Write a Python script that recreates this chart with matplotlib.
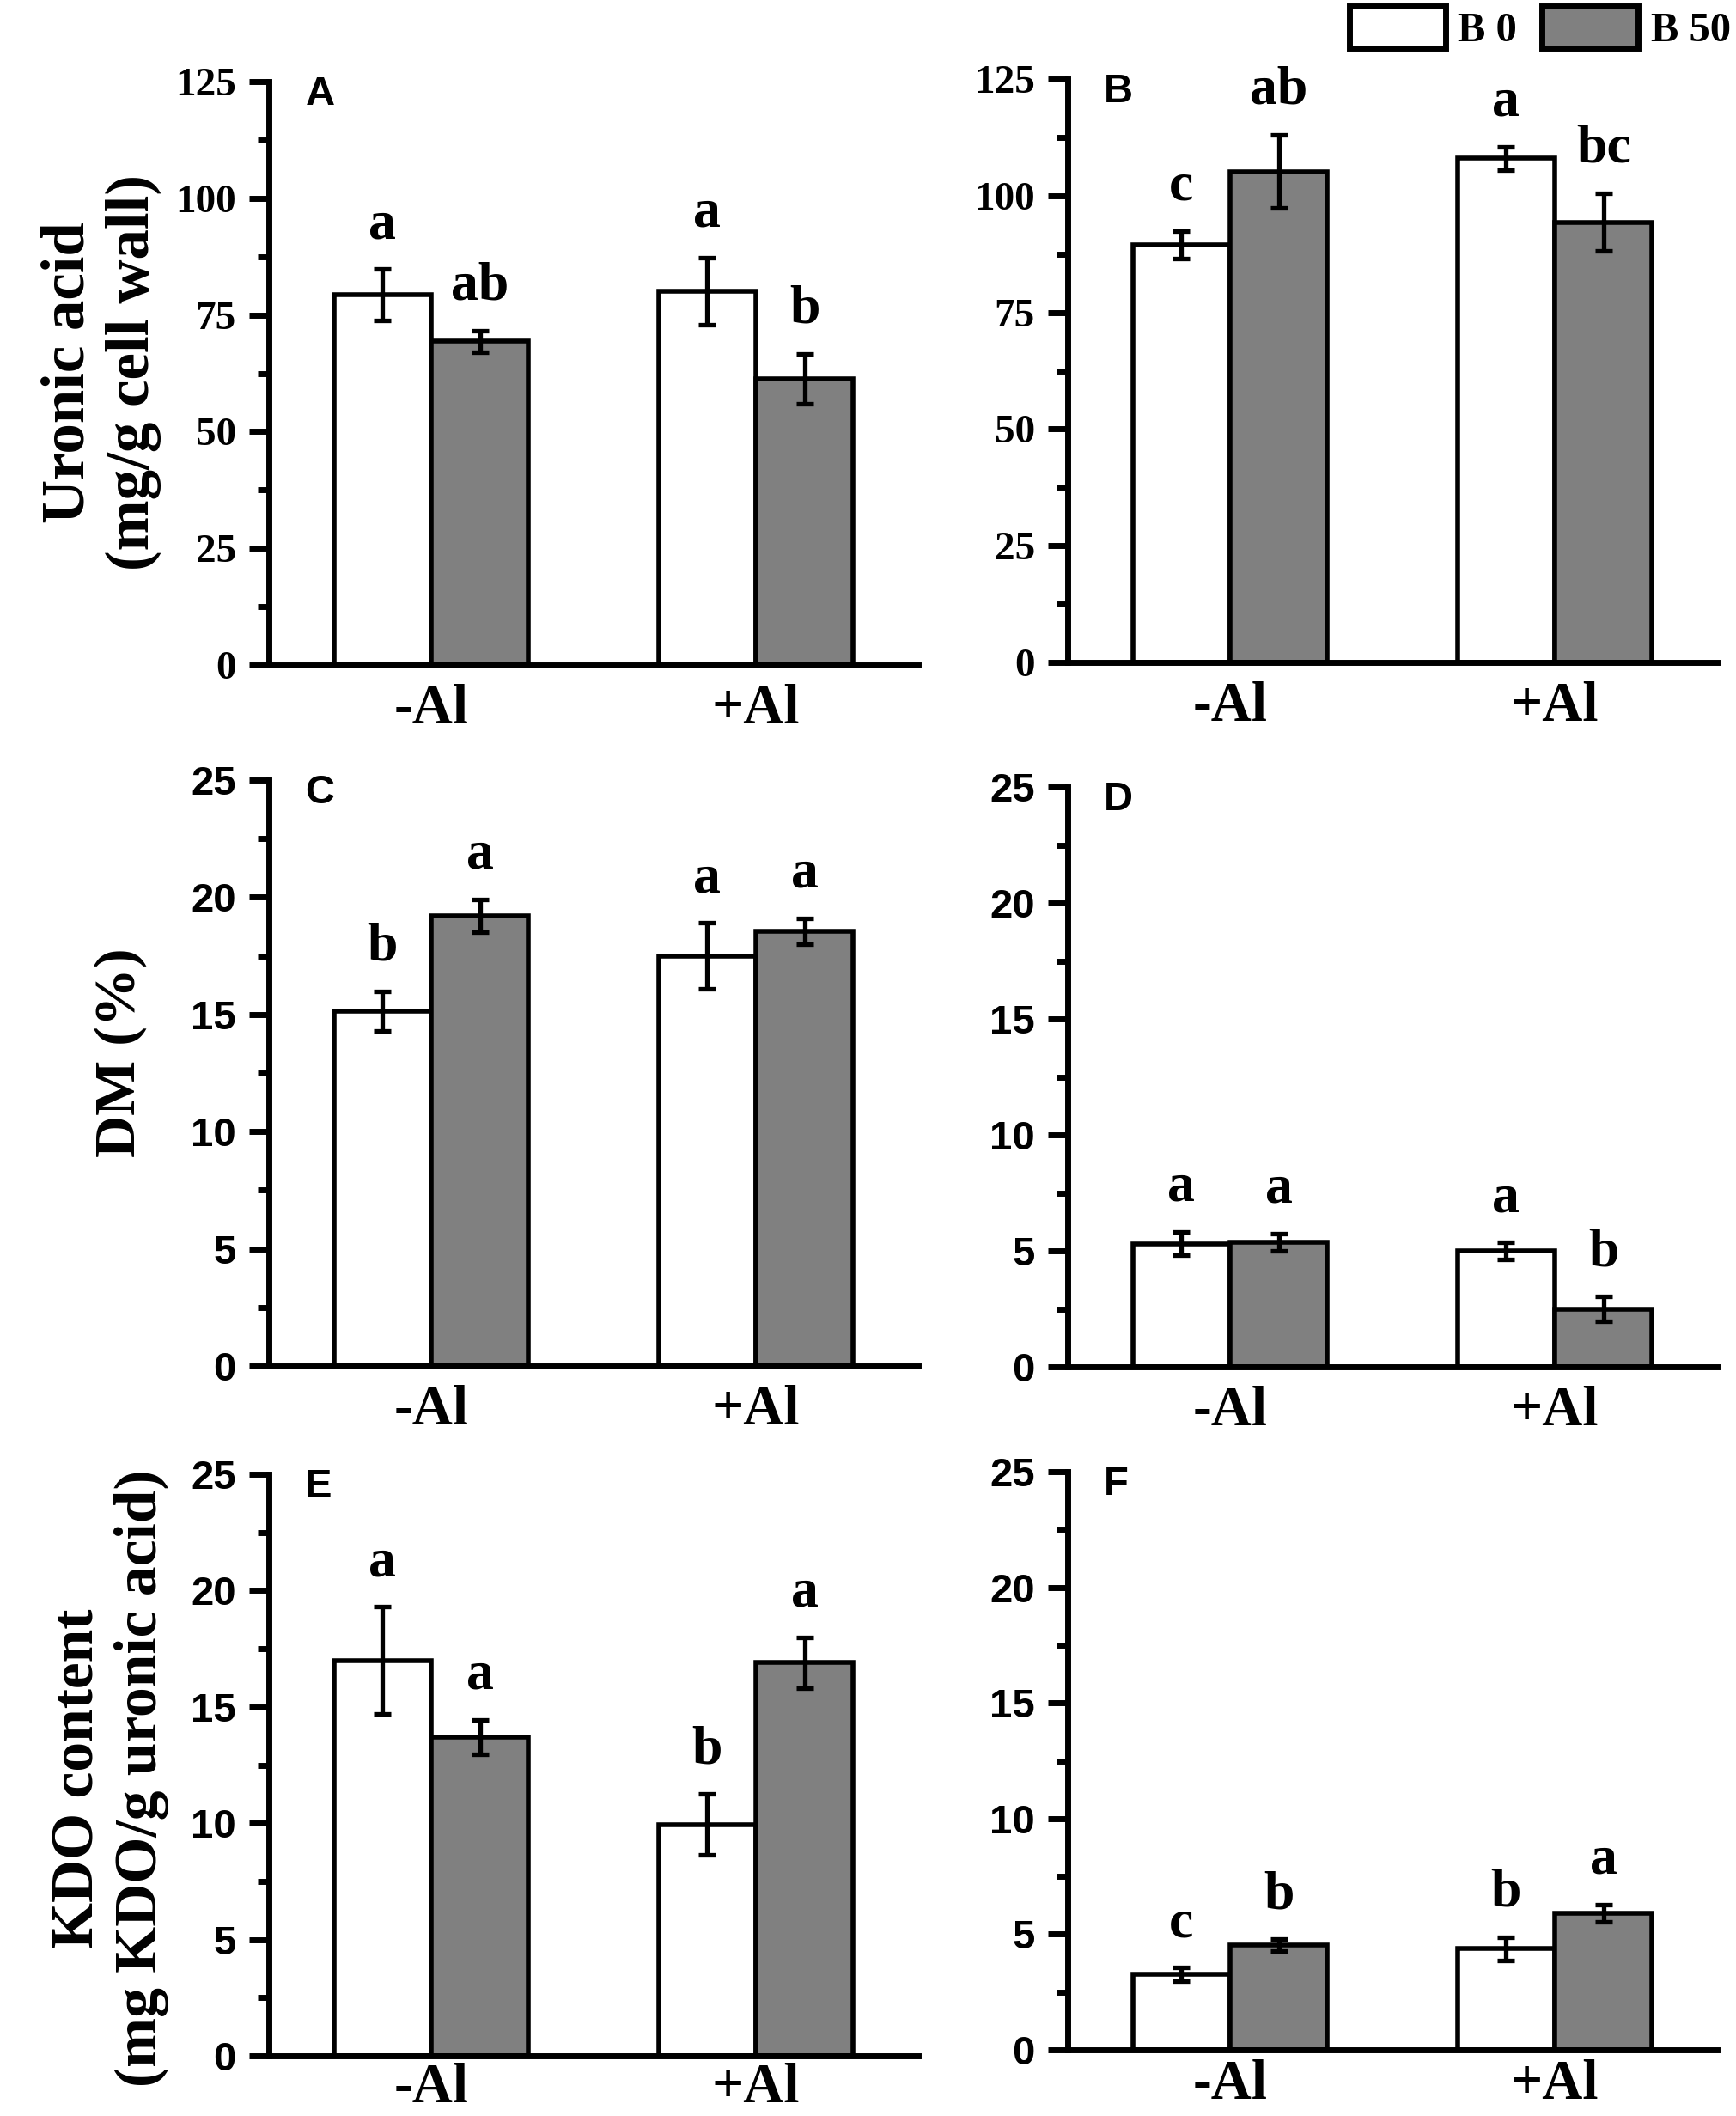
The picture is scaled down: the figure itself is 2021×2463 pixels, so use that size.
import numpy as np
import matplotlib
matplotlib.use('Agg')
import matplotlib.pyplot as plt
from matplotlib.ticker import MultipleLocator

# Data
groups = ['-Al', '+Al']
series_names = ['B 0', 'B 50']

# panel A: uronic acid, tissue 1
a_b0 = [79.3, 80.1]
a_b0_err = [5.5, 7.2]
a_b50 = [69.4, 61.3]
a_b50_err = [2.3, 5.4]
a_letters_b0 = ['a', 'a']
a_letters_b50 = ['ab', 'b']

# panel B: uronic acid, tissue 2
b_b0 = [89.5, 108.0]
b_b0_err = [2.9, 2.5]
b_b50 = [105.2, 94.3]
b_b50_err = [7.9, 6.2]
b_letters_b0 = ['c', 'a']
b_letters_b50 = ['ab', 'bc']

# panel C: DM, tissue 1
c_b0 = [15.15, 17.5]
c_b0_err = [0.85, 1.4]
c_b50 = [19.2, 18.55]
c_b50_err = [0.7, 0.55]
c_letters_b0 = ['b', 'a']
c_letters_b50 = ['a', 'a']

# panel D: DM, tissue 2
d_b0 = [5.31, 5.0]
d_b0_err = [0.51, 0.36]
d_b50 = [5.37, 2.5]
d_b50_err = [0.37, 0.52]
d_letters_b0 = ['a', 'a']
d_letters_b50 = ['a', 'b']

# panel E: KDO, tissue 1
e_b0 = [17.0, 9.95]
e_b0_err = [2.3, 1.3]
e_b50 = [13.7, 16.9]
e_b50_err = [0.75, 1.1]
e_letters_b0 = ['a', 'b']
e_letters_b50 = ['a', 'a']

# panel F: KDO, tissue 2
f_b0 = [3.26, 4.37]
f_b0_err = [0.29, 0.49]
f_b50 = [4.52, 5.91]
f_b50_err = [0.26, 0.37]
f_letters_b0 = ['c', 'b']
f_letters_b50 = ['b', 'a']

SERIF = 'Liberation Serif'
SANS = 'Liberation Sans'
GRAY = '#808080'
W, H = 2021, 2463

fig = plt.figure(figsize=(W / 100, H / 100), dpi=100)


def make_axes(left, right, top, bottom):
    return fig.add_axes([left / W, 1 - bottom / H, (right - left) / W, (bottom - top) / H])


def draw_panel(ax, b0, b0_err, b50, b50_err, let0, let50, ymax, major, tick_font, tag,
               xpad=16):
    x = np.arange(len(groups))
    w = 0.3
    ax.bar(x - w / 2, b0, w, color='white', edgecolor='black', linewidth=4, zorder=2)
    ax.bar(x + w / 2, b50, w, color=GRAY, edgecolor='black', linewidth=4, zorder=2)
    ax.errorbar(x - w / 2, b0, yerr=b0_err, fmt='none', ecolor='black',
                elinewidth=3.8, capsize=7, capthick=3.8, zorder=3)
    ax.errorbar(x + w / 2, b50, yerr=b50_err, fmt='none', ecolor='black',
                elinewidth=3.8, capsize=7, capthick=3.8, zorder=3)

    for xi, v, e, t in zip(x - w / 2, b0, b0_err, let0):
        ax.annotate(t, (xi, v + e), xytext=(0, 16), textcoords='offset points',
                    ha='center', va='bottom', fontsize=46, fontweight='bold', family=SERIF)
    for xi, v, e, t in zip(x + w / 2, b50, b50_err, let50):
        ax.annotate(t, (xi, v + e), xytext=(0, 16), textcoords='offset points',
                    ha='center', va='bottom', fontsize=46, fontweight='bold', family=SERIF)

    ax.set_xlim(-0.5, 1.5)
    ax.set_ylim(0, ymax)
    ax.yaxis.set_major_locator(MultipleLocator(major))
    ax.yaxis.set_minor_locator(MultipleLocator(major / 2))
    ax.set_xticks(x)
    ax.set_xticklabels(groups, fontsize=47, fontweight='bold', family=SERIF)
    for lab in ax.get_yticklabels():
        lab.set_family(tick_font)
        lab.set_fontweight('bold')
        lab.set_fontsize(34)

    for s in ['top', 'right']:
        ax.spines[s].set_visible(False)
    for s in ['left', 'bottom']:
        ax.spines[s].set_linewidth(5)
    ax.tick_params(axis='y', which='major', direction='out', length=16.5, width=5, pad=11)
    ax.tick_params(axis='y', which='minor', direction='out', length=9.5, width=5)
    ax.tick_params(axis='x', length=0, pad=xpad)

    ax.text(0.056, 1.01, tag, transform=ax.transAxes, ha='left', va='top',
            fontsize=34, fontweight='bold', family=SANS)


ax_a = make_axes(313, 1069, 95, 774)
ax_b = make_axes(1243, 1999, 92, 771)
ax_c = make_axes(313, 1069, 908, 1590)
ax_d = make_axes(1243, 1999, 916, 1591)
ax_e = make_axes(313, 1069, 1716, 2393)
ax_f = make_axes(1243, 1999, 1713, 2386)

draw_panel(ax_a, a_b0, a_b0_err, a_b50, a_b50_err, a_letters_b0, a_letters_b50, 125, 25, SERIF, 'A')
draw_panel(ax_b, b_b0, b_b0_err, b_b50, b_b50_err, b_letters_b0, b_letters_b50, 125, 25, SERIF, 'B')
draw_panel(ax_c, c_b0, c_b0_err, c_b50, c_b50_err, c_letters_b0, c_letters_b50, 25, 5, SANS, 'C')
draw_panel(ax_d, d_b0, d_b0_err, d_b50, d_b50_err, d_letters_b0, d_letters_b50, 25, 5, SANS, 'D')
draw_panel(ax_e, e_b0, e_b0_err, e_b50, e_b50_err, e_letters_b0, e_letters_b50, 25, 5, SANS, 'E',
           xpad=6)
draw_panel(ax_f, f_b0, f_b0_err, f_b50, f_b50_err, f_letters_b0, f_letters_b50, 25, 5, SANS, 'F',
           xpad=8)

# y labels (left column only)
fig.text(118 / W, 1 - 434 / H, 'Uronic acid\n(mg/g cell wall)', rotation=90, ha='center',
         va='center', multialignment='center', fontsize=51, fontweight='bold',
         family=SERIF, linespacing=1.2)
fig.text(140 / W, 1 - 1225 / H, 'DM (%)', rotation=90, ha='center', va='center',
         fontsize=49, fontweight='bold', family=SERIF)
fig.text(128 / W, 1 - 2070 / H, 'KDO content\n(mg KDO/g uronic acid)', rotation=90,
         ha='center', va='center', multialignment='center', fontsize=50,
         fontweight='bold', family=SERIF, linespacing=1.2)

# legend at top right
handles = [plt.Rectangle((0, 0), 1, 1, facecolor='white', edgecolor='black', linewidth=5),
           plt.Rectangle((0, 0), 1, 1, facecolor=GRAY, edgecolor='black', linewidth=5)]
fig.legend(handles, series_names, loc='upper right', bbox_to_anchor=(0.997, 0.997),
           ncol=2, frameon=False, borderpad=0, borderaxespad=0,
           handlelength=2.3, handleheight=1.15, handletextpad=0.3, columnspacing=0.6,
           prop={'family': SERIF, 'weight': 'bold', 'size': 35})

fig.savefig('out.png', dpi=100)
